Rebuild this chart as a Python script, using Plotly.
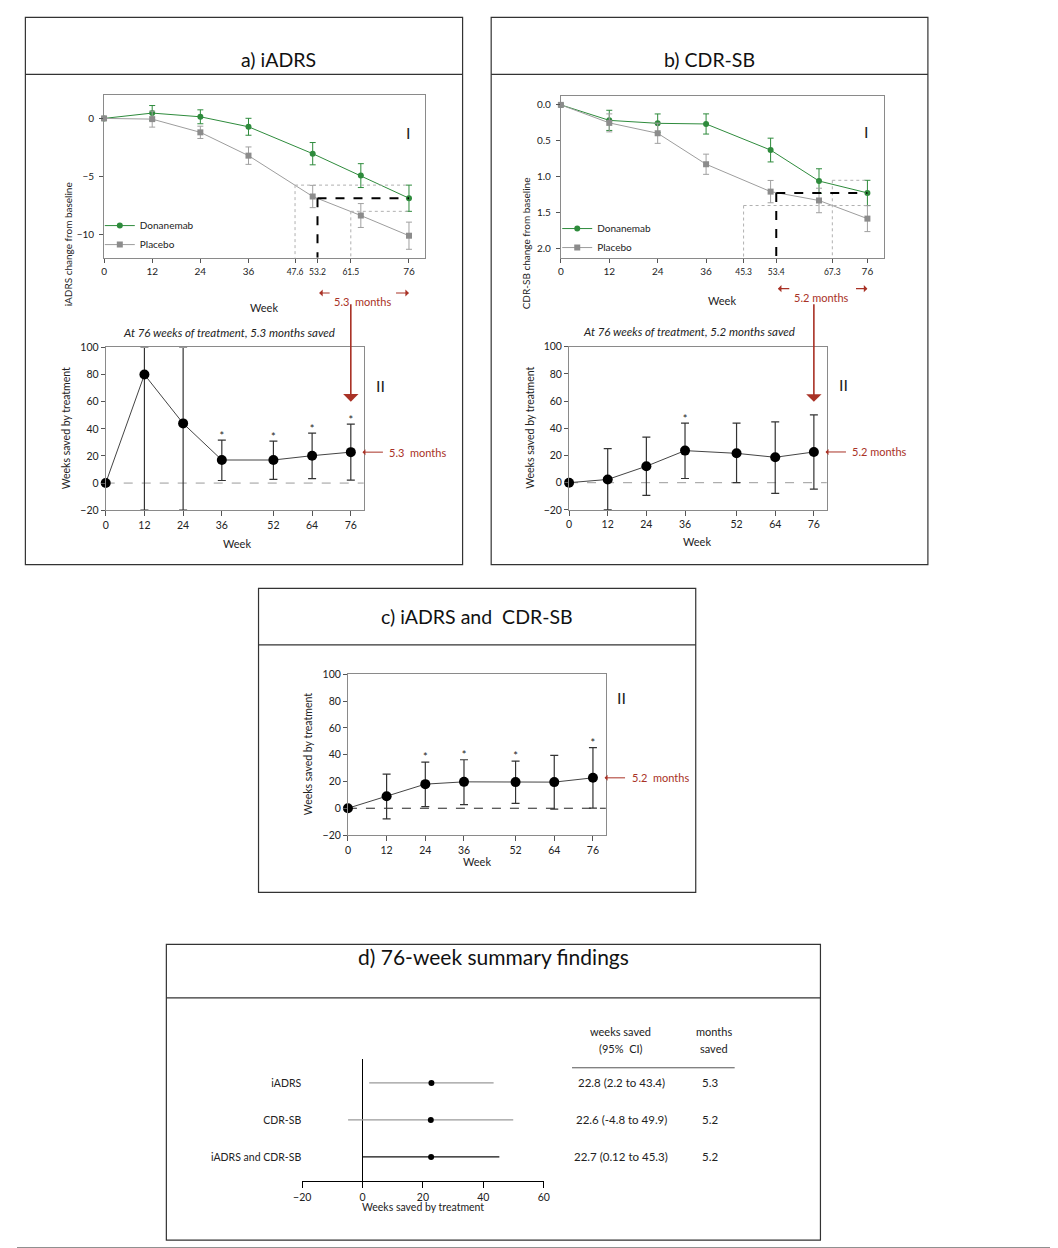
import plotly.graph_objects as go

W, H = 1058, 1248
def px(x): return x / W
def py(y): return 1 - y / H

FONT = "Lato"
RED = "#a93226"
GREEN = "#2e8b3c"
GREY = "#8c8c8c"

weeks = [0, 12, 24, 36, 52, 64, 76]

# ---- a) I : iADRS change from baseline
iadrs_don = [0, 0.46, 0.14, -0.72, -3.04, -4.93, -6.88]
iadrs_don_err = [0, 0.65, 0.60, 0.73, 0.96, 1.03, 1.13]
iadrs_pbo = [0, -0.06, -1.20, -3.21, -6.73, -8.37, -10.11]
iadrs_pbo_err = [0, 0.69, 0.53, 0.75, 0.96, 1.03, 1.17]
iadrs_cross = [47.6, 53.2, 61.5]   # placebo week matching donanemab wk-76 (upper CI, estimate, lower CI)

# ---- b) I : CDR-SB change from baseline
cdr_don = [0, 0.215, 0.256, 0.265, 0.627, 1.057, 1.222]
cdr_don_err = [0, 0.14, 0.13, 0.14, 0.165, 0.17, 0.175]
cdr_pbo = [0, 0.25, 0.394, 0.824, 1.204, 1.327, 1.579]
cdr_pbo_err = [0, 0.125, 0.14, 0.14, 0.155, 0.17, 0.18]
cdr_cross = [45.3, 53.4, 67.3]

# ---- II panels : weeks saved by treatment
iadrs_saved = [0, 80, 44, 17, 17, 20.2, 22.8]
iadrs_lo = [0, -20, -20, 1.9, 2.7, 3.2, 2.2]
iadrs_hi = [0, 100, 100, 31.6, 30.9, 36.8, 43.4]
iadrs_sig = [False, False, False, True, True, True, True]

cdr_saved = [0, 2.4, 12.1, 23.6, 21.6, 18.7, 22.6]
cdr_lo = [0, -20, -9.3, 3.1, 0, -7.8, -4.8]
cdr_hi = [0, 25, 33.6, 43.8, 43.8, 44.7, 49.9]
cdr_sig = [False, False, False, True, False, False, False]

both_saved = [0, 8.9, 18.0, 19.7, 19.5, 19.5, 22.7]
both_lo = [0, -7.9, 1.2, 2.7, 3.7, -0.7, 0.12]
both_hi = [0, 25.4, 34.5, 36.2, 35.2, 39.4, 45.3]
both_sig = [False, False, True, True, True, False, True]

# ---- d) summary
outcomes = ["iADRS", "CDR-SB", "iADRS and CDR-SB"]
sum_est = [22.8, 22.6, 22.7]
sum_lo = [2.2, -4.8, 0.12]
sum_hi = [43.4, 49.9, 45.3]
sum_months = [5.3, 5.2, 5.2]
sum_colors = ["#9a9a9a", "#9a9a9a", "#111111"]

fig = go.Figure()

# ---------- I panels ----------
def change_traces(xa, ya, don, don_err, pbo, pbo_err, legend):
    fig.add_trace(go.Scatter(
        x=weeks, y=don, name="Donanemab", mode="lines+markers", xaxis=xa, yaxis=ya,
        line=dict(color=GREEN, width=1), marker=dict(color=GREEN, size=6, symbol="circle"),
        error_y=dict(type="data", array=don_err, color=GREEN, thickness=1, width=3),
        cliponaxis=False, legend=legend))
    fig.add_trace(go.Scatter(
        x=weeks, y=pbo, name="Placebo", mode="lines+markers", xaxis=xa, yaxis=ya,
        line=dict(color="#9d9d9d", width=1), marker=dict(color=GREY, size=6, symbol="square"),
        error_y=dict(type="data", array=pbo_err, color="#a0a0a0", thickness=1, width=3),
        cliponaxis=False, legend=legend))

change_traces("x", "y", iadrs_don, iadrs_don_err, iadrs_pbo, iadrs_pbo_err, "legend")
change_traces("x2", "y2", cdr_don, cdr_don_err, cdr_pbo, cdr_pbo_err, "legend2")

# ---------- II panels ----------
def saved_traces(xa, ya, saved, lo, hi, sig):
    plus = [h - s for h, s in zip(hi, saved)]
    minus = [s - l for s, l in zip(saved, lo)]
    fig.add_trace(go.Scatter(
        x=weeks, y=saved, mode="lines+markers", xaxis=xa, yaxis=ya, showlegend=False,
        line=dict(color="#444", width=1), marker=dict(color="black", size=10),
        error_y=dict(type="data", symmetric=False, array=plus, arrayminus=minus,
                     color="#333", thickness=1.2, width=4),
        cliponaxis=False))
    sx = [w for w, s in zip(weeks, sig) if s]
    sy = [h + 2.5 for h, s in zip(hi, sig) if s]
    fig.add_trace(go.Scatter(
        x=sx, y=sy, mode="text", text=["*"] * len(sx), xaxis=xa, yaxis=ya, showlegend=False,
        textfont=dict(family=FONT, size=11, color="#222"), cliponaxis=False))

saved_traces("x3", "y3", iadrs_saved, iadrs_lo, iadrs_hi, iadrs_sig)
saved_traces("x4", "y4", cdr_saved, cdr_lo, cdr_hi, cdr_sig)
saved_traces("x5", "y5", both_saved, both_lo, both_hi, both_sig)

# ---------- d) forest ----------
for name, e, l, h, c in zip(outcomes, sum_est, sum_lo, sum_hi, sum_colors):
    fig.add_trace(go.Scatter(
        x=[e], y=[len(outcomes) - outcomes.index(name)], mode="markers", xaxis="x6", yaxis="y6",
        showlegend=False, marker=dict(color="black", size=6),
        error_x=dict(type="data", symmetric=False, array=[h - e], arrayminus=[e - l],
                     color=c, thickness=1.3, width=0)))

# ---------- axes ----------
tickf = dict(family=FONT, size=10, color="#222")
tickf2 = dict(family=FONT, size=10.5, color="#222")
frame = dict(showline=True, mirror=True, linecolor="#8a8a8a", linewidth=1, showgrid=False,
             zeroline=False, ticks="outside", tickcolor="#555", ticklen=4, tickwidth=1)

def small(v):
    return f"<span style='font-size:8.5px'>{v}</span>"

a_ticks = [0, 12, 24, 36] + iadrs_cross + [76]
b_ticks = [0, 12, 24, 36] + cdr_cross + [76]

layout = dict(
    width=W, height=H, margin=dict(l=0, r=0, t=0, b=0),
    paper_bgcolor="white", plot_bgcolor="white",
    font=dict(family=FONT, color="#222"),
    showlegend=True,
    xaxis=dict(domain=[px(88.3), px(413.9)], range=[0, 80], anchor="y",
               tickvals=a_ticks, ticktext=[small(v) if v in iadrs_cross else str(v) for v in a_ticks],
               tickfont=tickf, **frame),
    yaxis=dict(domain=[py(246), py(82)], range=[-12, 2], anchor="x",
               tickvals=[0, -5, -10], tickfont=tickf, ticklabelstandoff=3, **frame),
    xaxis2=dict(domain=[px(551.7), px(879)], range=[0, 80], anchor="y2",
                tickvals=b_ticks, ticktext=[small(v) if v in cdr_cross else str(v) for v in b_ticks],
                tickfont=tickf, **frame),
    yaxis2=dict(domain=[py(246.7), py(82.3)], range=[2.13, -0.13], anchor="x2",
                tickvals=[0, 0.5, 1.0, 1.5, 2.0], tickformat=".1f", tickfont=tickf,
                ticklabelstandoff=3, **frame),
)
for i, (x0, x1, y0, y1) in zip([3, 4, 5], [(90, 351.7, 501, 336.7), (560, 821.4, 500.7, 336),
                                          (335.7, 597.3, 829, 666.7)]):
    layout[f"xaxis{i}"] = dict(domain=[px(x0), px(x1)], range=[0, 80], anchor=f"y{i}",
                               tickvals=weeks, tickfont=tickf2,
                               **{**frame, "ticklen": 5})
    layout[f"yaxis{i}"] = dict(domain=[py(y0), py(y1)], range=[-20, 100], anchor=f"x{i}",
                               tickvals=[-20, 0, 20, 40, 60, 80, 100], tickfont=tickf2, **frame)
layout["xaxis6"] = dict(domain=[px(289.3), px(534.3)], range=[-20, 60], anchor="y6",
                        tickvals=[-20, 0, 20, 40, 60], tickfont=dict(family=FONT, size=10.5, color="#222"),
                        showline=True, linecolor="black", linewidth=1, ticks="outside", ticklen=6,
                        tickcolor="black", showgrid=False, zeroline=True, zerolinecolor="black",
                        zerolinewidth=1)
layout["yaxis6"] = dict(domain=[py(1178.3), py(1055)], range=[0.35, 3.65], anchor="x6",
                        tickvals=[3, 2, 1], ticktext=outcomes, ticks="", showline=False,
                        showgrid=False, zeroline=False, tickfont=dict(family=FONT, size=10.5, color="#222"))

layout["legend"] = dict(x=px(84), y=py(199), xanchor="left", yanchor="top",
                        font=dict(family=FONT, size=10, color="#222"), bgcolor="rgba(0,0,0,0)",
                        itemwidth=30, tracegroupgap=0)
layout["legend2"] = dict(x=px(548), y=py(202), xanchor="left", yanchor="top",
                         font=dict(family=FONT, size=10, color="#222"), bgcolor="rgba(0,0,0,0)",
                         itemwidth=30, tracegroupgap=0)
fig.update_layout(**layout)

# ---------- guide lines in I panels ----------
def guides(xa, ya, don, don_err, cross, ybottom):
    est = don[-1]
    up, lowv = est + don_err[-1], est - don_err[-1]
    for xv, yv in [(cross[0], up), (cross[2], lowv)]:
        fig.add_shape(type="line", xref=xa, yref=ya, x0=xv, x1=76, y0=yv, y1=yv,
                      line=dict(color="#b0b0b0", width=1, dash="dot"))
        fig.add_shape(type="line", xref=xa, yref=ya, x0=xv, x1=xv, y0=yv, y1=ybottom,
                      line=dict(color="#b0b0b0", width=1, dash="dot"))
    fig.add_shape(type="line", xref=xa, yref=ya, x0=cross[1], x1=76, y0=est, y1=est,
                  line=dict(color="black", width=2, dash="dash"))
    fig.add_shape(type="line", xref=xa, yref=ya, x0=cross[1], x1=cross[1], y0=est, y1=ybottom,
                  line=dict(color="black", width=2, dash="dash"))

guides("x", "y", iadrs_don, iadrs_don_err, iadrs_cross, -12)
guides("x2", "y2", cdr_don, cdr_don_err, cdr_cross, 2.13)

# zero reference lines in II panels
for i, col in zip([3, 4, 5], ["#9a9a9a", "#9a9a9a", "#222"]):
    fig.add_shape(type="line", xref=f"x{i} domain", yref=f"y{i}", x0=0, x1=1, y0=0, y1=0,
                  line=dict(color=col, width=1, dash="dash"), layer="below")

# ---------- panel boxes ----------
# (left, right, top, bottom, separator, title, title size, title centre x)
boxes = [(8.5, 452, 3.5, 556, 61, "a) iADRS", 19.5, 225),
         (481, 924, 3.5, 556, 61, "b) CDR-SB", 19.5, 702),
         (245, 688.5, 580, 887, 637, "c) iADRS and\u00a0 CDR-SB", 19.5, 467),
         (151.5, 815, 939.5, 1238, 993.5, "d) 76-week summary findings", 21, 483)]
for x0, x1, y0, y1, ysep, title, fs, tcx in boxes:
    fig.add_shape(type="rect", xref="paper", yref="paper", x0=px(x0), x1=px(x1), y0=py(y0), y1=py(y1),
                  line=dict(color="#333", width=1.2))
    fig.add_shape(type="line", xref="paper", yref="paper", x0=px(x0), x1=px(x1), y0=py(ysep), y1=py(ysep),
                  line=dict(color="#333", width=1.2))
    fig.add_annotation(x=px(tcx), y=py((y0 + ysep) / 2), xref="paper", yref="paper",
                       text=title, showarrow=False, font=dict(family=FONT, size=fs, color="#111"))
fig.add_shape(type="line", xref="paper", yref="paper", x0=0, x1=1, y0=py(1246.5), y1=py(1246.5),
              line=dict(color="#222", width=2))

def txt(x, y, s, size=10.5, color="#222", angle=0, xanchor="center", italic=False):
    fig.add_annotation(x=px(x), y=py(y), xref="paper", yref="paper", text=s, showarrow=False,
                       textangle=angle, xanchor=xanchor,
                       font=dict(family=FONT, size=size, color=color,
                                 style="italic" if italic else "normal"))

# axis titles
txt(251, 288, "Week", 11)
txt(715, 281, "Week", 11)
txt(223, 535, "Week", 11)
txt(690, 533, "Week", 11)
txt(467, 864, "Week", 11)
txt(51.7, 168, "iADRS change from baseline", 10, angle=-90)
txt(516.7, 162.5, "CDR-SB change from baseline", 10, angle=-90)
txt(50, 418, "Weeks saved by treatment", 10.5, angle=-90)
txt(520.7, 417.5, "Weeks saved by treatment", 10.5, angle=-90)
txt(295, 747.5, "Weeks saved by treatment", 10.5, angle=-90)
txt(412, 1213, "Weeks saved by treatment", 10.5)

# panel numerals
txt(397, 108, "I", 16)
txt(861.7, 107, "I", 16)
txt(369, 363, "II", 16)
txt(838.3, 362, "II", 16)
txt(613.3, 690, "II", 16)

# captions
txt(215, 313, "At 76 weeks of treatment, 5.3 months saved", 11.5, italic=True)
txt(682, 312, "At 76 weeks of treatment, 5.2 months saved", 11.5, italic=True)

# red month spans under I panels
def span(xa, x_head_l, x_tail_l, x_mid, x_tail_r, y, label):
    for head, tail in [(x_head_l, x_tail_l), (76, x_tail_r)]:
        fig.add_annotation(x=head, y=py(y), xref=xa, yref="paper", ax=tail, ay=0, axref=xa,
                           ayref="pixel", text="", showarrow=True, arrowhead=1, arrowsize=1,
                           arrowwidth=1.2, arrowcolor=RED)
    fig.add_annotation(x=x_mid, y=py(y), xref=xa, yref="paper", text=label, showarrow=False,
                       font=dict(family=FONT, size=11, color=RED))

span("x", 53.6, 56.6, 64.3, 72.4, 281.7, "5.3\u00a0 months")
span("x2", 53.8, 57.0, 64.5, 72.8, 277.3, "5.2 months")

# red vertical connector arrows
fig.add_annotation(x=76, y=60, xref="x3", yref="y3", ax=0, ay=-99, text="", showarrow=True,
                   arrowhead=1, arrowsize=1.6, arrowwidth=1.6, arrowcolor=RED)
fig.add_annotation(x=76, y=59.5, xref="x4", yref="y4", ax=0, ay=-99, text="", showarrow=True,
                   arrowhead=1, arrowsize=1.6, arrowwidth=1.6, arrowcolor=RED)

# red pointers to the week-76 estimate in II panels
for xa, ya, est, label, tx in [("x3", "y3", iadrs_saved[-1], "5.3\u00a0 months", 375),
                               ("x4", "y4", cdr_saved[-1], "5.2 months", 845),
                               ("x5", "y5", both_saved[-1], "5.2\u00a0 months", 621.7)]:
    fig.add_annotation(x=79.6, y=est, xref=xa, yref=ya, ax=22, ay=0, text="", showarrow=True,
                       arrowhead=1, arrowsize=1, arrowwidth=1, arrowcolor=RED)
    fig.add_annotation(x=px(tx), y=est, xref="paper", yref=ya, text=label, showarrow=False,
                       xanchor="left", font=dict(family=FONT, size=11, color=RED))

# summary table
txt(612.3, 1036, "weeks saved", 11)
txt(612.3, 1053, "(95%\u00a0 CI)", 11)
txt(706.7, 1036, "months", 11)
txt(706.7, 1053, "saved", 11)
fig.add_shape(type="line", xref="paper", yref="paper", x0=px(563), x1=px(728), y0=py(1064), y1=py(1064),
              line=dict(color="#555", width=1))
for k, (e, l, h, m) in enumerate(zip(sum_est, sum_lo, sum_hi, sum_months)):
    fig.add_annotation(x=px(613), y=len(outcomes) - k, xref="paper", yref="y6",
                       text=f"{e} ({l} to {h})", showarrow=False,
                       font=dict(family=FONT, size=11.5, color="#222"))
    fig.add_annotation(x=px(703), y=len(outcomes) - k, xref="paper", yref="y6",
                       text=f"{m}", showarrow=False, font=dict(family=FONT, size=11.5, color="#222"))

fig.write_html("out.html")
